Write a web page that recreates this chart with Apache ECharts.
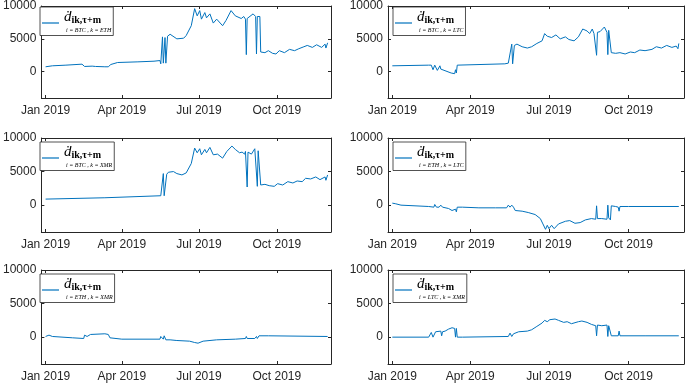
<!DOCTYPE html>
<html>
<head>
<meta charset="utf-8">
<script src="https://cdn.jsdelivr.net/npm/echarts@6/dist/echarts.min.js"></script>
<style>
  html, body { margin: 0; padding: 0; background: #fff; }
  #main { width: 685px; height: 383px; }
</style>
</head>
<body>
<div id="main"></div>
<script>
// x values are days since 1 Jan 2019
var tickDays = [0, 90, 181, 273];
var tickLabels = ['Jan 2019', 'Apr 2019', 'Jul 2019', 'Oct 2019'];
var yTicks = [0, 5000, 10000];
var pairNames = ['BTC-ETH', 'BTC-LTC', 'BTC-XMR', 'ETH-LTC', 'ETH-XMR', 'LTC-XMR'];
var pairLabels = ['i = BTC , k = ETH', 'i = BTC , k = LTC', 'i = BTC , k = XMR',
                  'i = ETH , k = LTC', 'i = ETH , k = XMR', 'i = LTC , k = XMR'];

var btcEth = [[0,750],[8,900],[24,1000],[43,1150],[46,800],[55,850],[57,1000],[59,800],[70,750],[74,750],[77,1100],[85,1400],[109,1500],[128,1600],[135,1700],[136,1200],[138,5300],[139,1300],[140,1300],[141,5200],[142,1300],[143,1300],[144,5400],[147,5700],[155,5000],[163,5100],[166,5500],[172,7000],[176,9600],[179,8500],[182,9300],[184,8000],[188,9000],[190,8200],[194,8800],[198,7400],[202,8000],[209,7000],[213,7800],[219,9300],[224,8500],[231,8100],[234,8400],[236,8000],[237,2600],[238,8100],[245,8800],[248,8400],[249,2700],[250,8400],[253,8400],[254,3000],[259,2900],[263,3200],[268,2800],[272,2700],[276,3200],[282,2900],[288,3400],[294,3200],[299,3500],[305,3800],[309,4000],[315,3700],[320,4100],[326,3700],[330,4200],[331,3600],[333,4400]];

var btcLtc = [[0,900],[42,1000],[45,1000],[47,300],[49,1000],[52,200],[55,900],[56,400],[58,300],[68,-200],[72,-300],[73,300],[74,-200],[75,1000],[130,1200],[134,1300],[138,4200],[139,1200],[140,1100],[141,4000],[144,4200],[150,3800],[156,3600],[161,3800],[167,4300],[173,4700],[176,5800],[179,5400],[181,5700],[184,5200],[189,5600],[194,5000],[200,5300],[204,4900],[210,4700],[215,5300],[220,6500],[225,6200],[228,5800],[231,6500],[233,5800],[235,6000],[236,2500],[237,6000],[240,6100],[245,6800],[248,6000],[249,2600],[250,6300],[252,6300],[253,2900],[258,2800],[263,2900],[269,2700],[275,3000],[280,2900],[286,3300],[292,3200],[300,3400],[305,3800],[311,3600],[317,4000],[323,3700],[328,3900],[330,3500],[331,4300]];

var btcXmr = [[0,900],[70,1100],[136,1400],[137,1400],[139,4700],[140,1400],[141,1300],[143,4600],[145,4900],[151,5000],[155,4700],[161,4500],[166,4800],[172,6200],[176,8500],[179,7800],[182,8400],[184,7500],[188,8300],[190,7800],[194,8600],[198,7500],[203,7600],[209,7000],[214,8000],[220,8800],[224,8300],[229,7800],[232,7900],[235,7600],[236,8000],[238,2700],[239,7900],[243,7600],[247,8400],[249,8200],[250,2800],[251,8100],[253,8100],[254,3000],[259,3100],[264,2900],[270,2800],[274,3200],[280,3000],[286,3500],[292,3300],[297,3600],[303,3500],[307,4000],[313,3900],[319,4200],[324,3800],[330,4200],[331,3700],[333,4500]];

var ethLtc = [[0,300],[4,200],[10,0],[42,-200],[48,-300],[49,100],[51,-300],[54,-300],[56,0],[58,-300],[65,-500],[69,-800],[73,-600],[74,-1000],[75,-300],[81,-300],[100,-400],[119,-400],[132,-400],[134,0],[136,-300],[138,0],[140,-300],[142,-800],[150,-900],[157,-1100],[165,-1400],[171,-2000],[174,-2800],[177,-3600],[179,-3000],[181,-3500],[184,-3000],[187,-3500],[192,-2800],[200,-2400],[205,-2300],[211,-2700],[217,-2600],[223,-2200],[230,-2000],[235,-2100],[236,-100],[237,-2000],[242,-2000],[248,-2100],[249,0],[250,-1900],[252,-2200],[253,-100],[258,-200],[261,-300],[262,-900],[263,-200],[273,-200],[331,-200]];

var ethXmr = [[0,100],[4,300],[8,100],[32,-100],[45,-200],[46,300],[49,100],[53,400],[55,300],[70,500],[74,400],[76,-100],[90,-300],[135,-300],[136,100],[139,-300],[140,200],[142,-400],[147,-400],[155,-500],[170,-600],[176,-800],[180,-900],[186,-600],[202,-400],[224,-300],[236,-200],[237,100],[238,-200],[247,-200],[249,100],[250,-200],[252,200],[263,200],[333,100]];

var ltcXmr = [[0,0],[42,0],[45,700],[47,0],[50,800],[52,600],[56,900],[57,200],[58,800],[61,900],[65,1200],[69,1400],[72,1300],[73,0],[74,1300],[75,0],[81,0],[134,100],[136,600],[138,100],[140,500],[146,800],[156,900],[161,1100],[167,1600],[173,2100],[176,2500],[179,2300],[182,2600],[188,2700],[192,2500],[198,2200],[202,2300],[207,2000],[215,2300],[219,2400],[225,2200],[230,1900],[235,1700],[236,200],[237,1800],[242,1700],[248,1800],[249,100],[250,1700],[252,1800],[253,200],[261,200],[262,900],[263,200],[292,200],[331,200]];

var allData = [btcEth, btcLtc, btcXmr, ethLtc, ethXmr, ltcXmr];

var chart = echarts.init(document.getElementById('main'));

var lefts = [35, 388];
var tops = [3, 138, 270];
var heights = [95, 94, 94];
var axisColor = '#262626';

var grids = [], xAxes = [], yAxes = [], series = [], legends = [];
for (var i = 0; i < 6; i++) {
    var col = i % 2, row = Math.floor(i / 2);
    grids.push({ left: lefts[col], top: tops[row], width: 296, height: heights[row] });
    // bottom + top x axis (box style)
    ['bottom', 'top'].forEach(function (pos) {
        xAxes.push({
            type: 'value', gridIndex: i, position: pos, min: -5, max: 337,
            axisLine: { show: true, onZero: false, lineStyle: { color: axisColor, width: 1 } },
            axisTick: { show: true, inside: true, length: 3, customValues: tickDays, lineStyle: { color: axisColor } },
            axisLabel: {
                show: pos === 'bottom', customValues: tickDays, margin: 7,
                color: axisColor, fontSize: 12, fontFamily: 'Liberation Sans',
                formatter: function (v) { return tickLabels[tickDays.indexOf(v)]; }
            },
            splitLine: { show: false }
        });
    });
    ['left', 'right'].forEach(function (pos) {
        yAxes.push({
            type: 'value', gridIndex: i, position: pos, min: -4000, max: 10000,
            axisLine: { show: true, onZero: false, lineStyle: { color: axisColor, width: 1 } },
            axisTick: { show: true, inside: true, length: 3, customValues: yTicks, lineStyle: { color: axisColor } },
            axisLabel: {
                show: pos === 'left', customValues: yTicks, margin: 5,
                color: axisColor, fontSize: 12, fontFamily: 'Liberation Sans',
                formatter: function (v) { return String(v); }
            },
            splitLine: { show: false }
        });
    });
    series.push({
        name: pairNames[i], type: 'line', xAxisIndex: i * 2, yAxisIndex: i * 2,
        data: allData[i], showSymbol: false, symbol: 'none',
        lineStyle: { color: '#0072BD', width: 1 }, itemStyle: { color: '#0072BD' },
        animation: false
    });
    legends.push({
        data: [pairNames[i]], left: lefts[col] + 5, top: tops[row] + 4,
        orient: 'vertical', icon: 'rect', itemWidth: 17, itemHeight: 1.2,
        padding: [2, 2, 2, 2], backgroundColor: '#fff',
        borderColor: axisColor, borderWidth: 0.8, borderRadius: 0,
        selectedMode: false,
        formatter: (function (lbl) {
            return function () { return '{d|ḋ}{s|ik,τ+m}\n{p|' + lbl + '}'; };
        })(pairLabels[i]),
        textStyle: {
            color: '#000',
            rich: {
                d: { fontFamily: 'Liberation Serif', fontStyle: 'italic', fontSize: 15, lineHeight: 15 },
                s: { fontFamily: 'Liberation Serif', fontWeight: 'bold', fontSize: 10, padding: [6, 0, 0, 0], lineHeight: 15 },
                p: { fontFamily: 'Liberation Serif', fontStyle: 'italic', fontSize: 6, lineHeight: 12, padding: [0, 0, 0, 2] }
            }
        }
    });
}

chart.setOption({
    animation: false,
    grid: grids,
    xAxis: xAxes,
    yAxis: yAxes,
    legend: legends,
    series: series
});
</script>
</body>
</html>
